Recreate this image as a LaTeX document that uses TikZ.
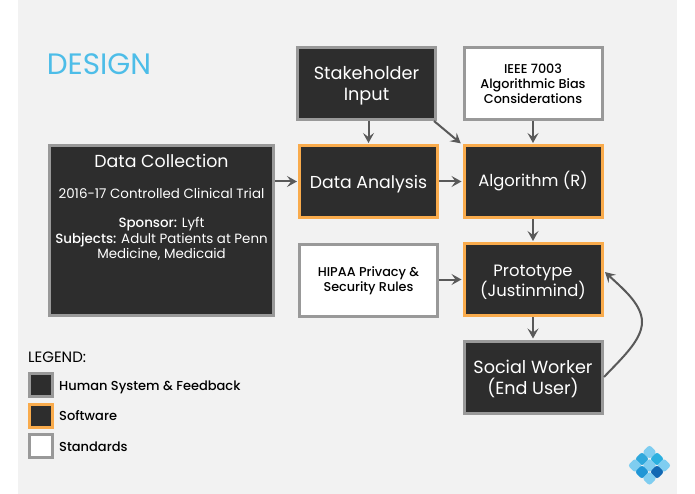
\documentclass[tikz,border=0pt]{standalone}
\usepackage{fontspec}
\setmainfont{Poppins}
\newfontfamily\medfont{Poppins Medium}
\usetikzlibrary{arrows.meta}

\definecolor{panelgray}{HTML}{F2F2F2}
\definecolor{boxdark}{HTML}{2D2D2D}
\definecolor{edgegray}{HTML}{999999}
\definecolor{edgeorange}{HTML}{F9AB4C}
\definecolor{arrowgray}{HTML}{595959}
\definecolor{titleblue}{HTML}{4DBDE8}

\newcommand{\lowerline}{\rule{0pt}{17.5pt}}

\tikzset{
	humanbox/.style={draw=edgegray,fill=boxdark,text=white,line width=3pt,align=center,inner sep=0pt},
	softbox/.style={draw=edgeorange,fill=boxdark,text=white,line width=3pt,align=center,inner sep=0pt},
	stdbox/.style={draw=edgegray,fill=white,text=black,line width=3pt,align=center,inner sep=0pt},
	flowbox/.style={minimum width=138pt,minimum height=72pt},
	bigtext/.style={font=\fontsize{#1}{20.5}\selectfont},
	smalltext/.style={font=\medfont\fontsize{12.8}{15.2}\selectfont},
	swatch/.style={minimum width=23pt,minimum height=23pt},
	legendtext/.style={anchor=west,inner sep=0pt,font=\medfont\fontsize{13}{15}\selectfont},
	flow/.style={draw=arrowgray,line width=2pt,-{Stealth[length=10pt,width=11pt,inset=4pt]},shorten >=1pt},
	tile/.style={rounded corners=2.5pt,minimum size=10pt,inner sep=0pt,rotate=45}
}

\begin{document}
\begin{tikzpicture}[x=1pt,y=-1pt]
	\useasboundingbox (0,0) rectangle (695,494);
	\fill[panelgray] (18,0) rectangle (677,494);

	\node[text=titleblue,font=\fontsize{29.5}{34}\selectfont] (design) at (99,64) {DESIGN};

	\node[humanbox,minimum width=224pt,minimum height=170pt] (collection) at (161.5,230.5) {};
	\node[text=white,font=\fontsize{17.4}{20}\selectfont] (collectionhead) at (161.5,161) {Data Collection};
	\node[text=white,font=\fontsize{13.4}{16}\selectfont] (collectiontrial) at (161.5,193.5) {2016-17 Controlled Clinical Trial};
	\node[text=white,align=center,font=\fontsize{13.4}{15.2}\selectfont] (collectionbody) at (161.5,239) {{\medfont Sponsor:} Lyft\\{\medfont Subjects:} Adult Patients at Penn\\Medicine, Medicaid};

	\node[humanbox,flowbox,bigtext=17.7] (stakeholder) at (366.5,83.5) {\lowerline Stakeholder\\Input};
	\node[stdbox,flowbox,smalltext] (ieee) at (533,83.5) {IEEE 7003\\Algorithmic Bias\\Considerations};
	\node[softbox,flowbox,bigtext=17.3] (analysis) at (368.5,181.5) {\lowerline Data Analysis};
	\node[softbox,flowbox,bigtext=16.4] (algorithm) at (533,181.5) {Algorithm (R)};
	\node[stdbox,flowbox,smalltext] (hipaa) at (368.5,280.5) {HIPAA Privacy \&\\Security Rules};
	\node[softbox,flowbox,bigtext=16.4] (prototype) at (533,279.5) {\lowerline Prototype\\(Justinmind)};
	\node[humanbox,flowbox,bigtext=17.6] (worker) at (533,377) {\lowerline Social Worker\\(End User)};

	\draw[flow] (analysis |- stakeholder.south) -- (analysis);
	\draw[flow] (ieee) -- (algorithm);
	\draw[flow] ([xshift=-3pt]stakeholder.south east) -- ([xshift=-1pt]algorithm.north west);
	\draw[flow] (collection.east |- analysis) -- (analysis);
	\draw[flow] (analysis) -- (algorithm);
	\draw[flow] (algorithm) -- (prototype);
	\draw[flow] (hipaa.east |- prototype) -- (prototype);
	\draw[flow] (prototype) -- (worker);

	\coordinate (loopstart) at (604,377);
	\coordinate (loopbend) at (642,322);
	\coordinate (loopend) at (605,272);
	\draw[flow,shorten >=0pt] (loopstart) .. controls (622,358) and (642,340) .. (loopbend) .. controls (642,304) and (622,288) .. (loopend);

	\node[anchor=west,inner sep=0pt,font=\fontsize{15}{17}\selectfont] (legend) at (28,357.5) {LEGEND:};
	\node[humanbox,swatch] (swatchhuman) at (41,384.5) {};
	\node[softbox,swatch] (swatchsoft) at (41,415.5) {};
	\node[stdbox,swatch] (swatchstd) at (41,445.5) {};
	\node[legendtext] (labelhuman) at (59,387) {Human System \& Feedback};
	\node[legendtext] (labelsoft) at (59,416) {Software};
	\node[legendtext] (labelstd) at (59,446.5) {Standards};

	% logo in the corner
	\foreach \tx/\ty/\tc in {649.5/452/7FCDF0,642/459/2FA8DC,657/459/2BB0E0,635/465.5/7FCDF0,649.5/465.5/7FCDF0,664/465.5/7FCDF0,642/472/1F96D6,657/472/1268B3,649.5/478.5/7FCDF0}{
		\definecolor{tilecolor}{HTML}{\tc}
		\node[tile,fill=tilecolor] at (\tx,\ty) {};
	}
\end{tikzpicture}
\end{document}
